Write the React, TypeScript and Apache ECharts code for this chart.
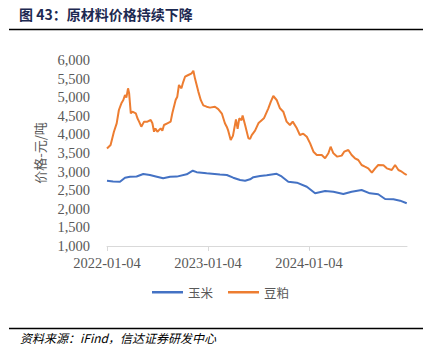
import React, { useEffect, useRef } from "react";
import * as echarts from "echarts";

const titleText = "图 43：原材料价格持续下降";
const sourceText = "资料来源：iFind，信达证券研发中心";
const yAxisName = "价格-元/吨";
const seriesNames = ["玉米", "豆粕"];
const startDate = "2022-01-04";
const xTickDates = ["2022-01-04", "2023-01-04", "2024-01-04"];
const endDay = 1084;

const cornDates = [
  "2022-01-04", "2022-01-26", "2022-02-20", "2022-03-10", "2022-03-28", "2022-04-21",
  "2022-05-15", "2022-06-08", "2022-07-03", "2022-07-26", "2022-08-20", "2022-09-13",
  "2022-10-19", "2022-11-10", "2022-11-24", "2022-12-30", "2023-02-16", "2023-03-13",
  "2023-04-05", "2023-04-30", "2023-05-18", "2023-06-05", "2023-06-17", "2023-07-11",
  "2023-08-04", "2023-09-09", "2023-09-27", "2023-10-21", "2023-11-21", "2023-12-27",
  "2024-01-26", "2024-03-02", "2024-04-01", "2024-05-07", "2024-06-06", "2024-07-12",
  "2024-08-11", "2024-09-10", "2024-10-05", "2024-11-04", "2024-11-28", "2024-12-22",
];
const cornValues = [
  2755, 2735, 2728, 2836, 2863, 2870,
  2935, 2908, 2863, 2820, 2860, 2865,
  2927, 3024, 2985, 2954, 2920, 2908,
  2836, 2774, 2755, 2792, 2850, 2882,
  2900, 2940, 2870, 2728, 2702, 2594,
  2420, 2478, 2460, 2398, 2460, 2505,
  2416, 2390, 2263, 2255, 2218, 2148,
];

const mealDates = [
  "2022-01-04", "2022-01-17", "2022-01-29", "2022-02-08", "2022-02-16", "2022-02-25",
  "2022-03-04", "2022-03-10", "2022-03-15", "2022-03-21", "2022-03-25", "2022-03-31",
  "2022-04-06", "2022-04-18", "2022-04-24", "2022-04-30", "2022-05-08", "2022-05-18",
  "2022-05-30", "2022-06-11", "2022-06-17", "2022-06-23", "2022-06-28", "2022-07-05",
  "2022-07-17", "2022-07-23", "2022-07-29", "2022-08-10", "2022-08-22", "2022-08-28",
  "2022-09-09", "2022-09-15", "2022-09-21", "2022-09-30", "2022-10-06", "2022-10-13",
  "2022-10-25", "2022-11-06", "2022-11-12", "2022-11-18", "2022-11-30", "2022-12-09",
  "2022-12-18", "2022-12-30", "2023-01-11", "2023-01-29", "2023-02-10", "2023-02-23",
  "2023-03-06", "2023-03-13", "2023-03-18", "2023-03-27", "2023-04-04", "2023-04-15",
  "2023-04-21", "2023-04-27", "2023-05-05", "2023-05-09", "2023-05-18", "2023-05-30",
  "2023-06-05", "2023-06-11", "2023-06-23", "2023-07-05", "2023-07-11", "2023-07-25",
  "2023-08-10", "2023-08-19", "2023-08-28", "2023-09-09", "2023-09-21", "2023-10-03",
  "2023-10-15", "2023-10-27", "2023-11-06", "2023-11-21", "2023-12-02", "2023-12-14",
  "2023-12-27", "2024-01-08", "2024-01-20", "2024-02-01", "2024-02-19", "2024-03-02",
  "2024-03-14", "2024-03-22", "2024-04-01", "2024-04-15", "2024-05-01", "2024-05-10",
  "2024-05-25", "2024-06-06", "2024-06-18", "2024-06-30", "2024-07-12", "2024-07-24",
  "2024-08-05", "2024-08-18", "2024-08-30", "2024-09-10", "2024-09-29", "2024-10-11",
  "2024-10-29", "2024-11-10", "2024-11-22", "2024-12-04", "2024-12-12", "2024-12-22",
];
const mealValues = [
  3620, 3715, 4072, 4298, 4656, 4835,
  4925, 5059, 4990, 5239, 5105, 4567,
  4610, 4567, 4433, 4343, 4207, 4343,
  4343, 4387, 4300, 4072, 4160, 4072,
  4163, 4100, 4253, 4298, 4343, 4567,
  4925, 5014, 5328, 5239, 5400, 5550,
  5597, 5643, 5712, 5500, 5150, 4920,
  4780, 4745, 4720, 4745, 4680, 4560,
  4300, 4200, 4100, 3849, 3960, 4400,
  4150, 4433, 4380, 4510, 4253, 3893,
  3880, 3982, 4100, 4298, 4343, 4433,
  4701, 4880, 5032, 4925, 4701, 4611,
  4343, 4253, 4343, 4163, 3984, 4020,
  3938, 3760, 3535, 3446, 3446, 3357,
  3492, 3669, 3492, 3402, 3430, 3535,
  3581, 3446, 3357, 3312, 3177, 3132,
  3088, 2970, 3088, 3177, 3170, 3088,
  3043, 3177, 3043, 2997, 2954, 2908,
];

const DAY = 86400000;
const base = Date.parse(startDate);
const toDay = (s: string) => Math.round((Date.parse(s) - base) / DAY);
const fromDay = (d: number) => new Date(base + d * DAY).toISOString().slice(0, 10);

const App = () => {
  const ref = useRef<HTMLDivElement>(null);
  useEffect(() => {
    if (!ref.current) return;
    const chart = echarts.init(ref.current, undefined, { renderer: "svg" });
    const serif = "'Times New Roman', 'Liberation Serif', serif";
    const cjk = "'Noto Sans CJK SC', sans-serif";
    const tickDays = xTickDates.map(toDay);
    chart.setOption({
      animation: false,
      backgroundColor: "#ffffff",
      grid: { left: 107, right: 27, top: 60, bottom: 109, containLabel: false },
      xAxis: {
        type: "value",
        min: 0,
        max: endDay,
        interval: 365,
        axisLine: { show: true, lineStyle: { color: "#d9d9d9", width: 1 } },
        axisTick: { show: true, length: 5, lineStyle: { color: "#d9d9d9" }, customValues: tickDays },
        axisLabel: {
          customValues: tickDays,
          formatter: (v: number) => fromDay(v),
          color: "#595959",
          fontFamily: serif,
          fontSize: 14.5,
          margin: 9,
        },
        splitLine: { show: false },
      },
      yAxis: {
        type: "value",
        min: 1000,
        max: 6000,
        interval: 500,
        axisLine: { show: false },
        axisTick: { show: false },
        splitLine: { show: false },
        axisLabel: {
          formatter: (v: number) => v.toLocaleString("en-US"),
          color: "#595959",
          fontFamily: serif,
          fontSize: 14.5,
          margin: 17,
        },
        name: yAxisName,
        nameLocation: "middle",
        nameRotate: 90,
        nameGap: 53,
        nameTextStyle: { color: "#595959", fontFamily: cjk, fontSize: 13 },
      },
      legend: {
        left: 152,
        top: 286,
        padding: 0,
        icon: "rect",
        itemWidth: 31,
        itemHeight: 2.5,
        itemGap: 15,
        textStyle: { color: "#595959", fontFamily: cjk, fontSize: 12.5 },
        data: seriesNames,
      },
      series: [
        {
          name: seriesNames[0],
          type: "line",
          symbol: "none",
          data: cornDates.map((d, i) => [toDay(d), cornValues[i]]),
          lineStyle: { color: "#4472C4", width: 2 },
          itemStyle: { color: "#4472C4" },
        },
        {
          name: seriesNames[1],
          type: "line",
          symbol: "none",
          data: mealDates.map((d, i) => [toDay(d), mealValues[i]]),
          lineStyle: { color: "#ED7D31", width: 2 },
          itemStyle: { color: "#ED7D31" },
        },
      ],
      graphic: [
        {
          type: "text",
          left: 19,
          top: 7,
          style: { text: titleText, fill: "#1d2951", font: `bold 14px ${cjk}` },
        },
        {
          type: "line",
          shape: { x1: 9, y1: 29.5, x2: 423, y2: 29.5 },
          style: { stroke: "#000000", lineWidth: 1.5 },
        },
        {
          type: "line",
          shape: { x1: 9, y1: 328.5, x2: 423, y2: 328.5 },
          style: { stroke: "#000000", lineWidth: 1.5 },
        },
        {
          type: "text",
          left: 20,
          top: 331,
          style: { text: sourceText, fill: "#000000", font: `italic 12px ${cjk}` },
        },
      ],
    });
    return () => chart.dispose();
  }, []);
  return (
    <div
      ref={ref}
      style={{ position: "absolute", left: 0, top: 0, width: 434, height: 355 }}
    />
  );
};

export default App;
